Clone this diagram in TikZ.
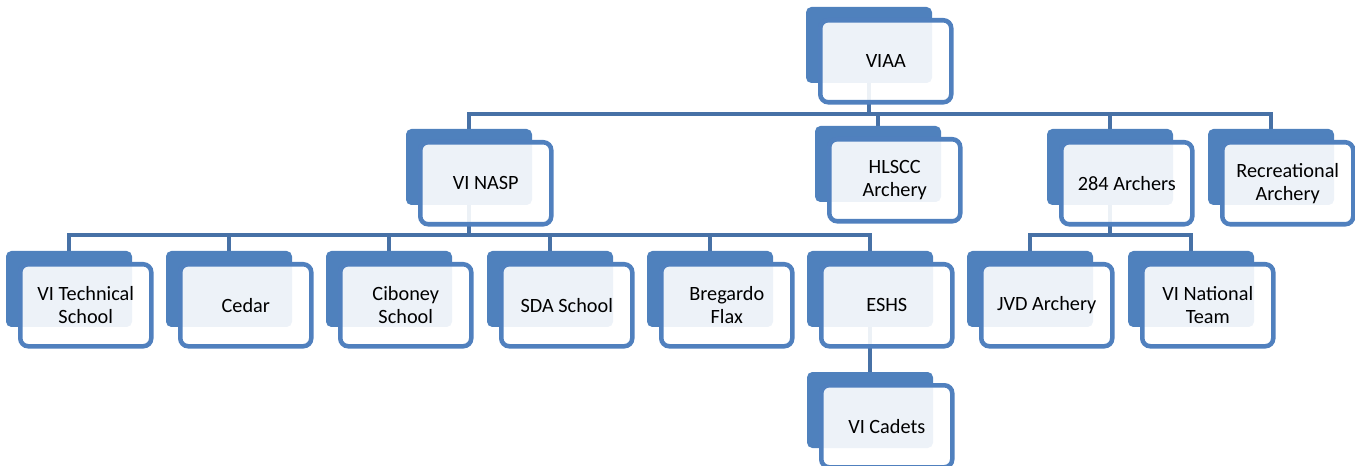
\documentclass[tikz,border=0pt]{standalone}
\usepackage{fontspec}
\setmainfont{Carlito}
\pgfdeclarelayer{bg}
\pgfsetlayers{bg,main}
\definecolor{bblue}{HTML}{4F81BD}
\definecolor{bline}{HTML}{5080BE}
\definecolor{cline}{HTML}{4771A6}
\newcommand\orgbox[4]{%
  \node[back] (#1) at (#2,#3) {};
  \node[front] (#1F) at ([xshift=9pt,yshift=-8.25pt]#1.north west) {#4};
}
\begin{document}
\begin{tikzpicture}[x=0.75pt,y=-0.75pt,
  back/.style={fill=bblue, rounded corners=4pt, minimum width=94.5pt, minimum height=57pt, inner sep=0pt, outer sep=0pt, anchor=north west},
  front/.style={draw=bline, line width=3.4pt, fill=white, fill opacity=0.9, text opacity=1, text=black, rounded corners=6pt, minimum width=98.25pt, minimum height=61.5pt, inner sep=0pt, anchor=north west, align=center, font=\fontsize{15.2}{17}\selectfont},
  conn/.style={draw=cline, line width=3.5pt}]
\useasboundingbox (0,0) rectangle (1355,466);
\orgbox{viaa}{806}{7}{VIAA}
\orgbox{nasp}{406}{129}{VI NASP}
\orgbox{hlscc}{815}{126}{HLSCC\\Archery}
\orgbox{arch}{1047}{129}{284 Archers}
\orgbox{rec}{1208}{129}{Recreational\\Archery}
\orgbox{tech}{6}{251}{VI Technical\\School}
\orgbox{cedar}{166}{251}{Cedar}
\orgbox{cib}{326}{251}{Ciboney\\School}
\orgbox{sda}{487}{251}{SDA School}
\orgbox{breg}{647}{251}{Bregardo\\Flax}
\orgbox{eshs}{807}{251}{ESHS}
\orgbox{jvd}{967}{251}{JVD Archery}
\orgbox{nat}{1128}{251}{VI National\\Team}
\orgbox{cad}{807}{372}{VI Cadets}
\coordinate (h1) at (0,114);
\coordinate (h2) at (0,235);
\begin{pgfonlayer}{bg}
\foreach \c in {nasp,hlscc,arch,rec}
  \draw[conn] (viaa.south) -- (viaa.south |- h1) -| (\c.north);
\foreach \c in {tech,cedar,cib,sda,breg,eshs}
  \draw[conn] (nasp.south) -- (nasp.south |- h2) -| (\c.north);
\foreach \c in {jvd,nat}
  \draw[conn] (arch.south) -- (arch.south |- h2) -| (\c.north);
\draw[conn] (eshs.south) -- (cad.north);
\end{pgfonlayer}
\end{tikzpicture}
\end{document}
